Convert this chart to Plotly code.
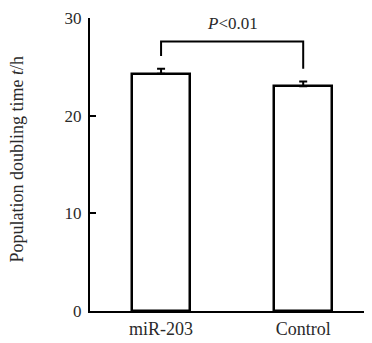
import plotly.graph_objects as go

categories = ["miR-203", "Control"]
values = [24.3, 23.0]
errors = [0.5, 0.5]
y_ticks = [0, 10, 20, 30]
bracket_top = 27.6
bracket_left_bottom = 26.1
bracket_right_bottom = 24.8
p_label = "<i>P</i>&lt;0.01"
y_title = "Population doubling time <i>t</i>/h"

FONT = "Liberation Serif, Times New Roman, serif"
TXT = "#2a2a2a"

fig = go.Figure()
fig.add_trace(go.Bar(
    x=[0, 1], y=values, width=0.41,
    marker=dict(color="white", line=dict(color="black", width=2.5)),
    error_y=dict(type="data", array=errors, arrayminus=[0, 0], color="black", thickness=2, width=4),
    showlegend=False,
))

# bracket
fig.add_shape(type="path", xref="x", yref="y",
              path=f"M 0 {bracket_left_bottom} L 0 {bracket_top} L 1 {bracket_top} L 1 {bracket_right_bottom}",
              line=dict(color="black", width=2))
fig.add_annotation(x=0.5, y=bracket_top, xref="x", yref="y", text=p_label, showarrow=False,
                   yanchor="bottom", yshift=6, font=dict(family=FONT, size=17, color=TXT))
fig.add_annotation(x=-0.261, y=0.52, xref="paper", yref="paper", text=y_title, showarrow=False,
                   textangle=-90, xanchor="center", yanchor="middle",
                   font=dict(family=FONT, size=18, color=TXT))

fig.update_layout(
    width=372, height=343,
    margin=dict(l=82, r=10, t=10, b=40, autoexpand=False),
    paper_bgcolor="white", plot_bgcolor="white",
    font=dict(family=FONT, size=17, color=TXT),
    bargap=0,
)
fig.update_xaxes(range=[-0.5, 1.47], tickvals=[0, 1], ticktext=categories,
                 showline=True, linecolor="black", linewidth=2, ticks="", automargin=False,
                 showgrid=False, zeroline=False, tickfont=dict(size=18, family=FONT, color=TXT))
fig.update_yaxes(range=[0, 30], tickvals=y_ticks, showline=True, linecolor="black", linewidth=2,
                 ticks="inside", ticklen=6, tickwidth=2, tickcolor="black", automargin=False,
                 showgrid=False, zeroline=False, ticklabelstandoff=3, ticklabeloverflow="allow",
                 tickfont=dict(size=17, family=FONT, color=TXT))

fig.write_html("out.html")
